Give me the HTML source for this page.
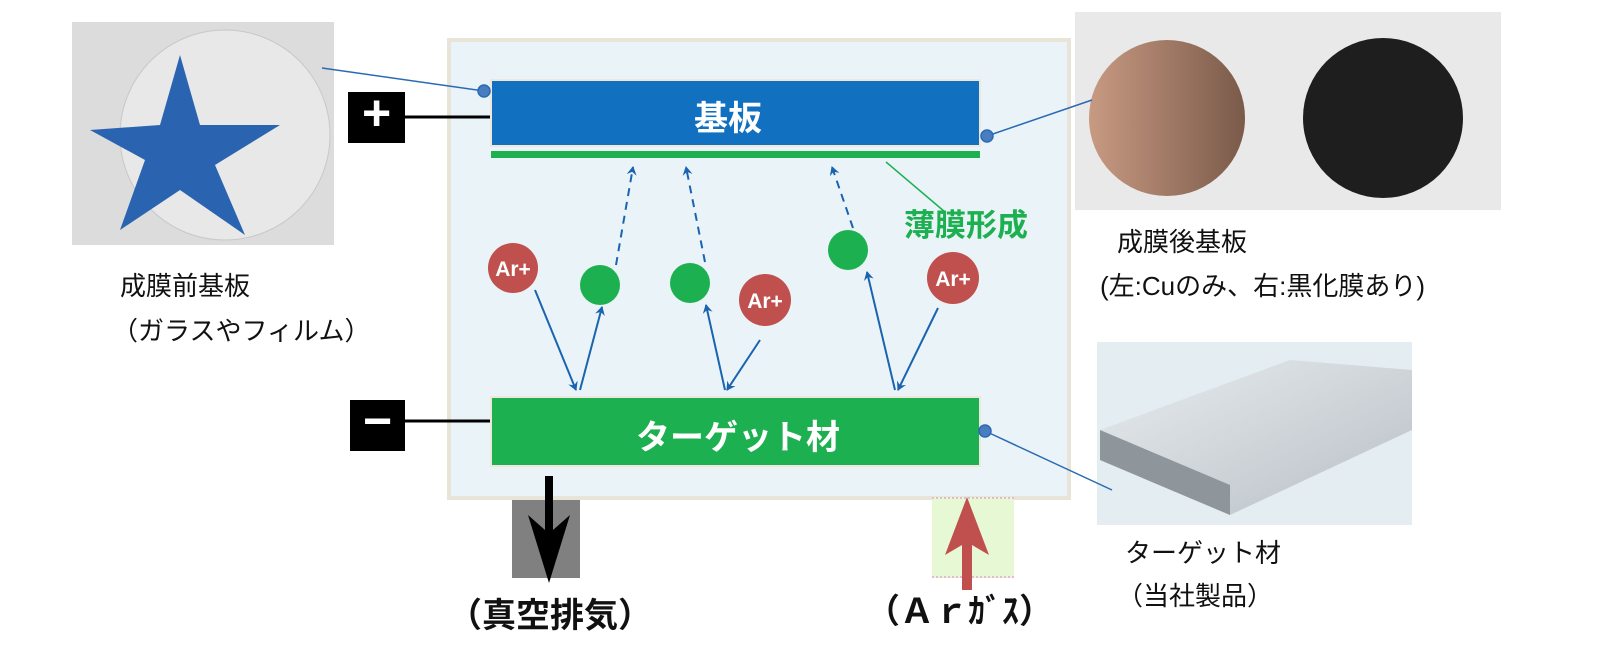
<!DOCTYPE html>
<html><head><meta charset="utf-8"><style>
body{margin:0;width:1600px;height:669px;background:#fff;position:relative;overflow:hidden;font-family:"Liberation Sans","Noto Sans CJK JP",sans-serif}
.t{position:absolute;white-space:nowrap}
</style></head><body>
<svg width="1600" height="669" style="position:absolute;left:0;top:0">
<defs>
<marker id="a" markerWidth="10" markerHeight="10" refX="8" refY="5" orient="auto" markerUnits="userSpaceOnUse"><path d="M0,0 L9,5 L0,10 L3,5z" fill="#1a63b0"/></marker>
<linearGradient id="cu" x1="0" x2="1"><stop offset="0" stop-color="#c89a82"/><stop offset="1" stop-color="#7a5a4a"/></linearGradient>
<linearGradient id="mt" x1="0" y1="0" x2="1" y2="1"><stop offset="0" stop-color="#e8ecef"/><stop offset="1" stop-color="#b8bfc5"/></linearGradient>
</defs>
<rect x="72" y="22" width="262" height="223" fill="#dcdcdc"/>
<circle cx="225" cy="135" r="105" fill="#e8e8e8" stroke="#c8c8c8"/>
<polygon points="180,55 200,125 280,125 215,165 245,235 180,190 120,230 145,160 90,130 160,125" fill="#2a64b0"/>
<rect x="1075" y="12" width="426" height="198" fill="#e9e9e9"/>
<circle cx="1167" cy="118" r="78" fill="url(#cu)"/>
<circle cx="1383" cy="118" r="80" fill="#1e1e1e"/>
<rect x="1097" y="342" width="315" height="183" fill="#e4edf2"/>
<polygon points="1100,430 1290,360 1412,370 1412,430 1230,515 1100,460" fill="url(#mt)"/>
<polygon points="1100,430 1230,485 1230,515 1100,460" fill="#8e969c"/>
<rect x="449" y="40" width="620" height="458" fill="#eaf4f8" stroke="#e8e4d8" stroke-width="4"/>
<rect x="491" y="80" width="489" height="66" fill="#1270c0" stroke="#eee8dc" stroke-width="2"/>
<rect x="491" y="151" width="489" height="7" fill="#1db050"/>
<rect x="491" y="397" width="489" height="69" fill="#1db050" stroke="#eee8dc" stroke-width="2"/>
<rect x="348" y="92" width="57" height="51" fill="#000"/>
<line x1="405" y1="117" x2="490" y2="117" stroke="#000" stroke-width="3"/>
<rect x="350" y="400" width="55" height="51" fill="#000"/>
<line x1="405" y1="421" x2="490" y2="421" stroke="#000" stroke-width="3"/>
<g stroke="#2a6ab5" stroke-width="1.5" fill="#4a7cc0">
<line x1="322" y1="68" x2="484" y2="91"/><circle cx="484" cy="91" r="6"/>
<line x1="987" y1="136" x2="1092" y2="100"/><circle cx="987" cy="136" r="6"/>
<line x1="985" y1="431" x2="1112" y2="490"/><circle cx="985" cy="431" r="6"/>
</g>
<line x1="886" y1="162" x2="945" y2="212" stroke="#1db050" stroke-width="1.5"/>
<g fill="#1db050"><circle cx="600" cy="285" r="20"/><circle cx="690" cy="283" r="20"/><circle cx="848" cy="250" r="20"/></g>
<g fill="#c0504d"><circle cx="513" cy="268" r="25"/><circle cx="765" cy="300" r="26"/><circle cx="953" cy="278" r="26"/></g>
<g font-family="Liberation Sans" font-weight="bold" font-size="21" fill="#fff" text-anchor="middle">
<text x="513" y="276">Ar+</text><text x="765" y="308">Ar+</text><text x="953" y="286">Ar+</text></g>
<g stroke="#1a63b0" stroke-width="2" fill="none" marker-end="url(#a)">
<line x1="535" y1="290" x2="576" y2="390"/>
<line x1="580" y1="390" x2="602" y2="307"/>
<line x1="760" y1="340" x2="727" y2="390"/>
<line x1="725" y1="390" x2="706" y2="305"/>
<line x1="938" y1="308" x2="898" y2="390"/>
<line x1="895" y1="390" x2="867" y2="272"/>
<g stroke-dasharray="8,6"><line x1="616" y1="265" x2="633" y2="167"/><line x1="705" y1="262" x2="686" y2="167"/><line x1="853" y1="228" x2="832" y2="167"/></g>
</g>
<rect x="512" y="500" width="68" height="78" fill="#808080"/>
<polygon points="545,476 553,476 553,530 570,515 549,583 528,515 545,530" fill="#000"/>
<rect x="932" y="497" width="82" height="81" fill="#e6f8d4"/>
<line x1="932" y1="498" x2="1014" y2="498" stroke="#e07ad8" stroke-dasharray="2,2"/>
<line x1="932" y1="577" x2="1014" y2="577" stroke="#e07ad8" stroke-dasharray="2,2"/>
<polygon points="962,590 972,590 972,545 989,555 967,497 945,555 962,545" fill="#c0504d"/>
</svg>
<div class="t" style="left:362px;top:84px;font-size:50px;color:#fff;font-weight:bold">+</div>
<div class="t" style="left:363px;top:392px;font-size:50px;color:#fff;font-weight:bold">−</div>
<div class="t" style="left:694px;top:91px;font-size:34px;color:#fff;font-weight:bold">基板</div>
<div class="t" style="left:636px;top:410px;font-size:34px;color:#fff;font-weight:bold">ターゲット材</div>
<div class="t" style="left:904px;top:200px;font-size:31px;color:#1db050;font-weight:bold">薄膜形成</div>
<div class="t" style="left:120px;top:266px;font-size:26px;color:#111">成膜前基板</div>
<div class="t" style="left:112px;top:311px;font-size:26px;color:#111">（ガラスやフィルム）</div>
<div class="t" style="left:1117px;top:222px;font-size:26px;color:#111">成膜後基板</div>
<div class="t" style="left:1100px;top:266px;font-size:26px;color:#111">(左:Cuのみ、右:黒化膜あり)</div>
<div class="t" style="left:1125px;top:533px;font-size:26px;color:#111">ターゲット材</div>
<div class="t" style="left:1117px;top:576px;font-size:26px;color:#111">（当社製品）</div>
<div class="t" style="left:448px;top:588px;font-size:34px;color:#111;font-weight:bold">（真空排気）</div>
<div class="t" style="left:866px;top:584px;font-size:34px;color:#111;font-weight:bold">（Ａｒｶﾞｽ）</div>
</body></html>
